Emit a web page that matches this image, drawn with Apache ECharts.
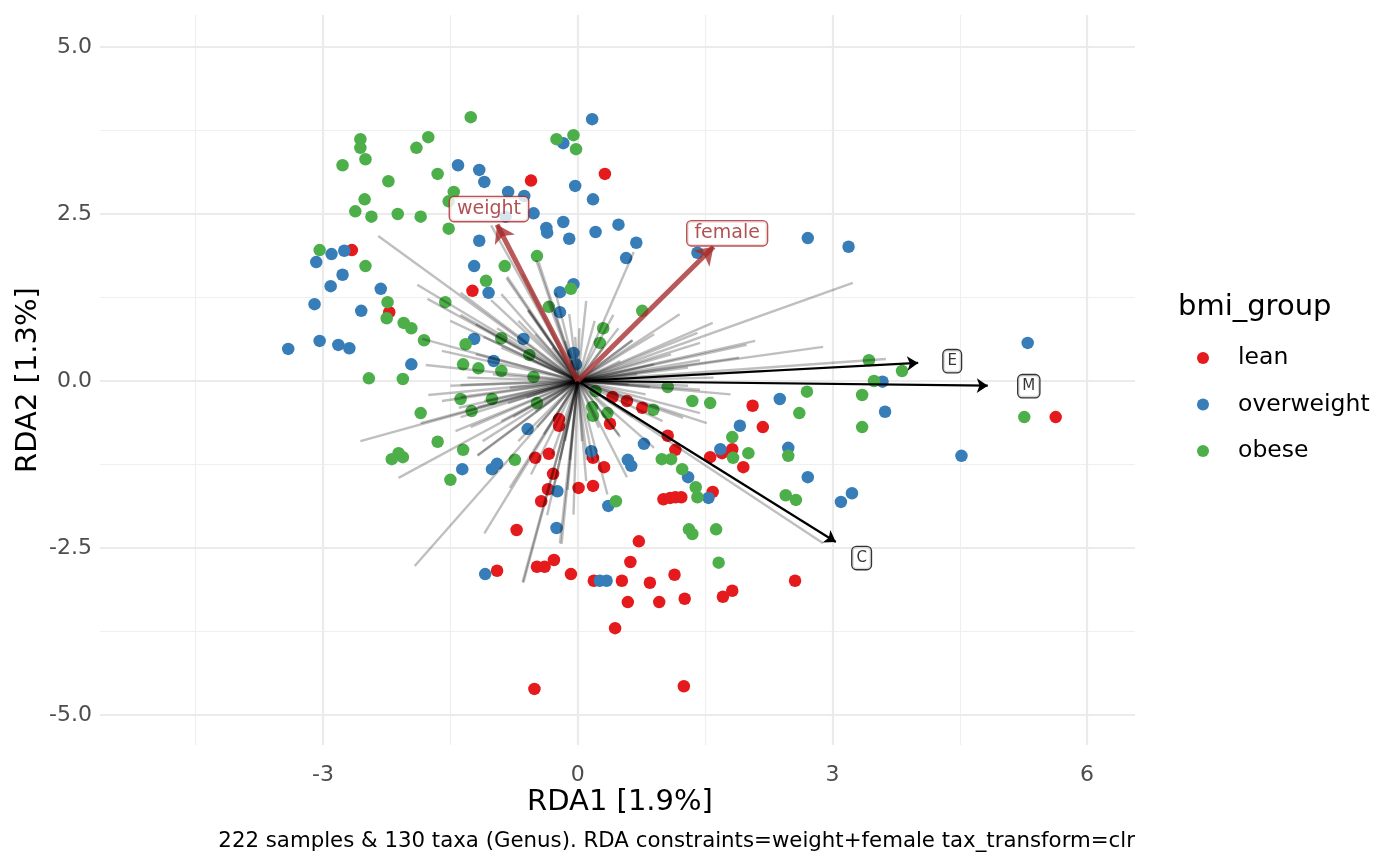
<!DOCTYPE html>
<html>
<head>
<meta charset="utf-8">
<script src="https://cdn.jsdelivr.net/npm/echarts@6/dist/echarts.min.js"></script>
<style>
  html, body { margin: 0; padding: 0; background: #fff; }
  #chart { width: 1400px; height: 866px; }
</style>
</head>
<body>
<div id="chart"></div>
<script>
// sample scores [RDA1, RDA2] per bmi_group
var leanPts = [
  [-2.66, 1.96], [-1.24, 1.35], [-2.22, 1.03], [-0.55, 3.00], [0.32, 3.10],
  [0.41, -0.24], [0.58, -0.30], [0.76, -0.40], [0.38, -0.64], [-0.22, -0.57],
  [-0.22, -0.67], [2.06, -0.37], [2.18, -0.69], [0.18, -1.15], [0.31, -1.29],
  [1.06, -0.82], [1.15, -1.03], [1.59, -1.66], [1.01, -1.77], [1.09, -1.75],
  [1.15, -1.74], [1.22, -1.74], [0.72, -2.40], [0.62, -2.71], [-0.08, -2.89],
  [0.19, -2.99], [0.52, -2.99], [0.85, -3.02], [1.14, -2.90], [0.59, -3.31],
  [0.96, -3.31], [1.26, -3.26], [1.71, -3.23], [1.82, -3.14], [2.56, -2.99],
  [0.44, -3.70], [1.25, -4.57], [0.01, -1.60], [0.18, -1.57], [1.70, -1.08],
  [1.82, -1.02], [1.56, -1.14], [1.95, -1.29], [-0.50, -1.15], [-0.34, -1.09],
  [-0.29, -1.39], [-0.35, -1.62], [-0.43, -1.80], [-0.72, -2.23], [-0.95, -2.84],
  [-0.48, -2.78], [-0.39, -2.78], [-0.28, -2.68], [-0.51, -4.61], [5.63, -0.54]
];
var overweightPts = [
  [0.17, 3.92], [-1.41, 3.23], [-1.16, 3.16], [-1.10, 2.98], [-0.03, 2.92],
  [-0.82, 2.83], [-0.63, 2.77], [0.18, 2.72], [-0.52, 2.51], [-0.85, 2.46],
  [-0.37, 2.29], [-0.36, 2.22], [-0.17, 2.38], [-0.10, 2.13], [0.21, 2.23],
  [0.48, 2.34], [0.69, 2.07], [0.57, 1.84], [1.41, 1.92], [2.71, 2.14],
  [3.19, 2.01], [-1.16, 2.10], [-2.75, 1.95], [-2.90, 1.90], [-3.08, 1.78],
  [-2.77, 1.59], [-2.91, 1.42], [-2.32, 1.38], [-1.22, 1.72], [-1.05, 1.32],
  [-0.21, 1.33], [-0.05, 1.45], [-0.21, 1.03], [-3.10, 1.15], [-2.55, 1.05],
  [-3.41, 0.48], [-3.04, 0.60], [-2.82, 0.54], [-2.69, 0.49], [-1.96, 0.25],
  [-1.22, 0.63], [-0.64, 0.63], [-0.99, 0.30], [-0.05, 0.42], [-0.02, 0.25],
  [5.30, 0.57], [3.59, -0.01], [3.62, -0.46], [4.52, -1.12], [2.38, -0.27],
  [1.91, -0.67], [0.78, -0.94], [0.16, -1.05], [0.59, -1.18], [0.63, -1.27],
  [1.30, -1.44], [1.54, -1.75], [1.68, -1.02], [2.48, -1.00], [2.71, -1.44],
  [3.10, -1.81], [3.23, -1.68], [0.36, -1.87], [0.26, -2.99], [0.34, -2.99],
  [-0.59, -0.72], [-1.36, -1.32], [-0.95, -1.24], [-1.01, -1.32], [-0.24, -1.65],
  [-0.25, -2.20], [-1.09, -2.89], [-0.17, 3.56]
];
var obesePts = [
  [-1.26, 3.95], [-2.56, 3.62], [-2.56, 3.49], [-2.50, 3.32], [-1.76, 3.65],
  [-1.90, 3.49], [-2.77, 3.23], [-1.65, 3.10], [-2.23, 2.99], [-1.46, 2.83],
  [-1.52, 2.69], [-2.51, 2.72], [-2.62, 2.54], [-2.43, 2.46], [-2.12, 2.50],
  [-1.85, 2.46], [-1.52, 2.28], [-0.25, 3.62], [-0.05, 3.68], [-0.02, 3.47],
  [-3.04, 1.96], [-2.50, 1.72], [-0.86, 1.72], [-1.08, 1.50], [-0.48, 1.87],
  [-0.08, 1.38], [-0.34, 1.11], [-2.24, 1.18], [-1.56, 1.18], [-2.25, 0.94],
  [-2.05, 0.87], [-1.96, 0.79], [-1.81, 0.61], [-1.32, 0.55], [-0.90, 0.64],
  [-0.57, 0.39], [-1.35, 0.25], [-1.17, 0.19], [-0.90, 0.15], [-0.52, 0.06],
  [-2.46, 0.04], [-2.06, 0.03], [0.76, 1.05], [0.30, 0.79], [0.26, 0.57],
  [3.43, 0.31], [3.82, 0.15], [3.49, 0.00], [3.35, -0.21], [3.35, -0.69],
  [5.26, -0.54], [1.06, -0.09], [1.35, -0.30], [1.56, -0.33], [2.70, -0.16],
  [2.61, -0.48], [0.21, -0.15], [0.89, -0.43], [0.17, -0.39], [0.18, -0.52],
  [0.35, -0.48], [0.99, -1.17], [1.10, -1.17], [1.23, -1.32], [1.39, -1.59],
  [1.41, -1.74], [0.45, -1.80], [1.31, -2.22], [1.35, -2.29], [1.63, -2.22],
  [1.66, -2.72], [1.82, -0.84], [1.83, -1.15], [2.01, -1.08], [2.48, -1.12],
  [2.45, -1.71], [2.57, -1.78], [-1.38, -0.27], [-1.01, -0.27], [-0.48, -0.33],
  [-1.25, -0.45], [-1.85, -0.48], [-1.65, -0.91], [-1.35, -1.03], [-2.11, -1.08],
  [-2.06, -1.14], [-2.19, -1.17], [-0.74, -1.18], [-1.50, -1.48]
];

// taxa loadings: end points of the grey lines from the origin
var taxaEnds = [
  [-2.35, 2.17], [-1.89, 1.44], [-1.77, 1.23], [-1.02, 2.33], [-0.84, 1.54],
  [-0.49, 1.81], [-0.26, 1.32], [-1.02, 1.21], [-0.58, 1.06], [-1.11, 0.66],
  [-0.95, 0.79], [-1.79, 0.24], [-1.50, -0.07], [-1.83, 0.63], [0.66, 1.93],
  [0.42, 0.99], [0.48, 0.79], [0.64, 0.61], [0.02, 0.79], [1.59, 0.87],
  [3.24, 1.47], [2.09, 0.60], [1.99, 0.54], [2.89, 0.51], [1.41, 0.72],
  [3.63, 0.33], [0.85, -0.09], [1.30, -0.07], [1.52, -0.63], [1.24, -0.55],
  [0.49, -0.81], [0.58, -1.44], [2.89, -2.43], [-2.56, -0.90], [-2.11, -1.45],
  [-1.92, -2.77], [-1.10, -2.28], [-1.44, -0.75], [-1.18, -1.12], [-1.12, -0.90],
  [-0.64, -3.02], [-0.65, -3.01], [-0.36, -2.01], [-0.19, -2.44], [-1.76, -0.21],
  [-0.82, -0.33], [-1.85, -0.63], [-0.12, -1.63], [-0.21, -2.43], [0.18, -1.21],
  [-0.83, 1.56], [-1.38, 1.32], [-1.38, 0.99], [-0.59, 1.06], [-0.46, 1.78],
  [-0.03, 0.66], [-0.21, 0.46], [-1.38, -0.06], [-1.38, -0.24], [-1.18, -0.39],
  [-1.38, -0.54], [-1.26, -0.69], [-1.18, -1.11], [-0.76, -0.54], [-0.48, -0.69],
  [-0.21, -1.18], [-0.09, -1.18], [0.11, -1.18], [0.50, -0.84], [0.65, -0.54],
  [1.44, -0.48], [1.44, -0.13], [1.44, 0.31], [1.44, 0.57], [0.65, 0.61],
  [-0.70, 0.90], [-0.50, 0.70], [-0.90, 0.50], [-1.20, 0.40], [-0.60, 0.35],
  [-1.00, 0.10], [-1.30, 0.05], [-0.80, -0.10], [-1.10, -0.30], [-0.60, -0.25],
  [-0.90, -0.60], [-0.50, -0.45], [-0.70, -0.90], [-0.40, -0.80], [-0.30, -1.10],
  [-0.15, -0.90], [0.05, -0.90], [0.10, -1.50], [0.25, -0.70], [0.40, -0.50],
  [0.60, -0.30], [0.80, -0.20], [0.70, 0.10], [0.90, 0.25], [1.10, 0.40],
  [0.50, 0.30], [0.30, 0.50], [0.20, 0.90], [0.10, 1.20], [-0.10, 1.00],
  [-0.15, 0.60], [-0.35, 1.20], [-0.30, 0.50], [-1.50, 0.90], [-1.60, 0.45],
  [-1.20, 0.85], [-0.90, 1.30], [-0.65, 1.60], [1.00, -0.60], [0.90, -1.00],
  [0.35, -1.70], [-0.05, -2.00], [-0.30, -1.70], [-0.55, -1.40], [-0.80, -1.60],
  [-1.40, -0.40], [-1.60, -0.30], [1.30, 0.20], [1.90, 0.35], [2.20, 0.15],
  [1.60, 0.05], [1.80, -0.20], [0.60, -0.05], [1.20, 1.00], [0.90, 0.70]
];

// constraint arrows (brown) and top taxa arrows (black)
var constraintNames = ['weight', 'female'];
var constraintEnds = [[-0.95, 2.34], [1.60, 2.01]];
var taxaArrowNames = ['E', 'M', 'C'];
var taxaArrowEnds = [[4.01, 0.27], [4.83, -0.07], [3.04, -2.41]];

var xTicks = [-3, 0, 3, 6];
var yTicks = [-5, -2.5, 0, 2.5, 5];
var xMajor = [-3, 0, 3, 6];
var xMinor = [-4.5, -1.5, 1.5, 4.5];
var yMajor = [-5, -2.5, 0, 2.5, 5];
var yMinor = [-3.75, -1.25, 1.25, 3.75];

var X_MIN = -5.627, X_MAX = 6.564, Y_MIN = -5.449, Y_MAX = 5.479;
var FONT = 'DejaVu Sans';

function vLines(vals) {
  return vals.map(function (v) { return { coords: [[v, Y_MIN], [v, Y_MAX]] }; });
}
function hLines(vals) {
  return vals.map(function (v) { return { coords: [[X_MIN, v], [X_MAX, v]] }; });
}
function fromOrigin(ends) {
  return ends.map(function (p) { return { coords: [[0, 0], p] }; });
}
// labels sit a bit beyond the arrow tips
function labelPts(ends, names) {
  return ends.map(function (p, i) { return [p[0] * 1.1, p[1] * 1.1, names[i]]; });
}

var chart = echarts.init(document.getElementById('chart'));

var pointStyle = function (name, color, data) {
  return {
    name: name, type: 'scatter', data: data, z: 2,
    symbol: 'circle', symbolSize: 12.5,
    itemStyle: { color: color, opacity: 1 },
    silent: true
  };
};

chart.setOption({
  animation: false,
  backgroundColor: '#fff',
  grid: { left: 100, right: 265, top: 15, bottom: 121 },
  xAxis: {
    type: 'value', min: X_MIN, max: X_MAX,
    axisLine: { show: false }, axisTick: { show: false }, splitLine: { show: false },
    axisLabel: {
      customValues: xTicks, margin: 19,
      fontFamily: FONT, fontSize: 22, color: '#4d4d4d',
      formatter: function (v) { return String(v); }
    }
  },
  yAxis: {
    type: 'value', min: Y_MIN, max: Y_MAX,
    axisLine: { show: false }, axisTick: { show: false }, splitLine: { show: false },
    axisLabel: {
      customValues: yTicks, margin: 8,
      fontFamily: FONT, fontSize: 22, color: '#4d4d4d',
      formatter: function (v) { return v.toFixed(1); }
    }
  },
  legend: {
    data: ['lean', 'overweight', 'obese'],
    orient: 'vertical', left: 1192, top: 341,
    icon: 'circle', itemWidth: 60, itemHeight: 12, itemGap: 22.5,
    selectedMode: false,
    textStyle: { fontFamily: FONT, fontSize: 23.5, color: '#000', lineHeight: 24 }
  },
  graphic: [
    { type: 'text', left: 1178, top: 293, style: { text: 'bmi_group', font: '29px "DejaVu Sans"', fill: '#000' } },
    { type: 'text', x: 620, y: 802, style: { text: 'RDA1 [1.9%]', font: '29px "DejaVu Sans"', fill: '#000', align: 'center', verticalAlign: 'middle' } },
    { type: 'text', x: 28, y: 380, rotation: Math.PI / 2, style: { text: 'RDA2 [1.3%]', font: '29px "DejaVu Sans"', fill: '#000', align: 'center', verticalAlign: 'middle' } },
    { type: 'text', x: 1135, y: 841, style: { text: '222 samples & 130 taxa (Genus). RDA constraints=weight+female tax_transform=clr', font: '21.3px "DejaVu Sans"', fill: '#000', align: 'right', verticalAlign: 'middle' } }
  ],
  series: [
    {
      type: 'lines', coordinateSystem: 'cartesian2d', z: 0, silent: true,
      data: vLines(xMinor).concat(hLines(yMinor)),
      lineStyle: { color: '#efefef', width: 1.2, opacity: 1 }
    },
    {
      type: 'lines', coordinateSystem: 'cartesian2d', z: 1, silent: true,
      data: vLines(xMajor).concat(hLines(yMajor)),
      lineStyle: { color: '#ebebeb', width: 2.2, opacity: 1 }
    },
    pointStyle('lean', '#E41A1C', leanPts),
    pointStyle('overweight', '#377EB8', overweightPts),
    pointStyle('obese', '#4DAF4A', obesePts),
    {
      type: 'lines', coordinateSystem: 'cartesian2d', z: 3, silent: true,
      data: fromOrigin(taxaEnds),
      lineStyle: { color: '#000', width: 2.4, opacity: 0.25 }
    },
    {
      type: 'lines', coordinateSystem: 'cartesian2d', z: 4, silent: true,
      data: fromOrigin(taxaArrowEnds),
      symbol: ['none', 'arrow'], symbolSize: 11,
      lineStyle: { color: '#000', width: 2.2, opacity: 1 }
    },
    {
      type: 'lines', coordinateSystem: 'cartesian2d', z: 4, silent: true,
      data: fromOrigin(constraintEnds),
      symbol: ['none', 'arrow'], symbolSize: 17,
      lineStyle: { color: '#a52a2a', width: 5, opacity: 0.78 }
    },
    {
      type: 'scatter', z: 5, silent: true,
      data: labelPts(constraintEnds, constraintNames),
      symbolSize: 1, itemStyle: { color: 'rgba(0,0,0,0)' },
      label: {
        show: true, position: 'inside', formatter: function (p) { return p.data[2]; },
        fontFamily: FONT, fontSize: 19, color: '#9e2626',
        backgroundColor: '#fff', borderColor: '#a52a2a', borderWidth: 1.4, borderRadius: 4,
        padding: [3, 7, 2, 7]
      }
    },
    {
      type: 'scatter', z: 5, silent: true,
      data: labelPts(taxaArrowEnds, taxaArrowNames),
      symbolSize: 1, itemStyle: { color: 'rgba(0,0,0,0)' },
      label: {
        show: true, position: 'inside', formatter: function (p) { return p.data[2]; },
        fontFamily: FONT, fontSize: 15, color: '#000',
        backgroundColor: '#fff', borderColor: '#000', borderWidth: 1.3, borderRadius: 4,
        padding: [4, 4, 3, 4]
      }
    }
  ]
});
</script>
</body>
</html>
